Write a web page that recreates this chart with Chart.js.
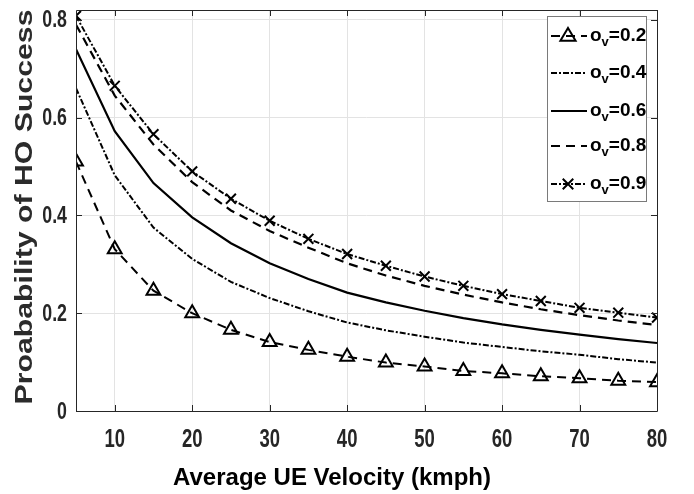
<!DOCTYPE html>
<html>
<head>
<meta charset="utf-8">
<script src="https://cdn.jsdelivr.net/npm/chart.js@4.4.1/dist/chart.umd.min.js"></script>
<style>
html,body{margin:0;padding:0;background:#fff;}
#wrap{width:694px;height:494px;position:relative;}
</style>
</head>
<body>
<div id="wrap"><canvas id="c" width="694" height="494"></canvas></div>
<script>
// ---- data ----
const velocity = [5,10,15,20,25,30,35,40,45,50,55,60,65,70,75,80];
const sigma02 = [0.51,0.331,0.246,0.200,0.166,0.141,0.125,0.111,0.099,0.091,0.082,0.077,0.071,0.067,0.062,0.059];
const sigma04 = [0.66,0.482,0.375,0.311,0.264,0.231,0.204,0.181,0.165,0.152,0.140,0.131,0.122,0.115,0.106,0.099];
const sigma06 = [0.74,0.572,0.466,0.396,0.343,0.302,0.270,0.242,0.222,0.205,0.190,0.177,0.166,0.156,0.147,0.139];
const sigma08 = [0.79,0.645,0.545,0.468,0.410,0.368,0.334,0.302,0.277,0.256,0.238,0.222,0.208,0.196,0.185,0.176];
const sigma09 = [0.808,0.665,0.566,0.490,0.434,0.389,0.352,0.321,0.297,0.275,0.256,0.239,0.225,0.211,0.201,0.191];
const seriesLabels = ["0.2","0.4","0.6","0.8","0.9"];
const xTickValues = [10,20,30,40,50,60,70,80];
const yTickValues = [0,0.2,0.4,0.6,0.8];
const xTickLabels = ["10","20","30","40","50","60","70","80"];
const yTickLabels = ["0","0.2","0.4","0.6","0.8"];
const xTitle = "Average UE Velocity (kmph)";
const yTitle = "Proabability of HO Success";

const SANS = "'Liberation Sans',Arial,sans-serif";
const toPts = arr => arr.map((v,i)=>({x:velocity[i],y:v}));

const styles = [
  {data:sigma02, dash:[9,6], width:2, point:'triangle', radius:8},
  {data:sigma04, dash:[6,2,2,2], width:2, point:false, radius:0},
  {data:sigma06, dash:[], width:2.2, point:false, radius:0},
  {data:sigma08, dash:[9,6], width:2.2, point:false, radius:0},
  {data:sigma09, dash:[6,2,2,2], width:2, point:'crossRot', radius:7}
];

const datasets = styles.map((s,i)=>({
  label: 'σv=' + seriesLabels[i],
  data: toPts(s.data),
  borderColor:'#000',
  backgroundColor:'rgba(0,0,0,0)',
  borderWidth:s.width,
  borderDash:s.dash,
  pointStyle:s.point || 'circle',
  pointRadius:s.radius,
  pointBorderWidth:2,
  pointBorderColor:'#000',
  pointBackgroundColor:'rgba(0,0,0,0)',
  tension:0,
  fill:false
}));

function drawMarker(ctx, style, x, y, r){
  ctx.save();
  ctx.setLineDash([]);
  ctx.lineWidth=2;
  ctx.strokeStyle='#000';
  ctx.beginPath();
  if(style==='triangle'){
    ctx.moveTo(x, y-r);
    ctx.lineTo(x+r*0.95, y+r*0.6);
    ctx.lineTo(x-r*0.95, y+r*0.6);
    ctx.closePath();
  } else if(style==='crossRot'){
    const d=r*0.75;
    ctx.moveTo(x-d,y-d);ctx.lineTo(x+d,y+d);
    ctx.moveTo(x+d,y-d);ctx.lineTo(x-d,y+d);
  }
  ctx.stroke();
  ctx.restore();
}

// axis box, inner ticks, tick labels and axis titles
const axisDecor = {
  id:'axisDecor',
  afterDraw(chart){
    const {ctx, chartArea:a, scales} = chart;
    ctx.save();
    ctx.strokeStyle='#262626';
    ctx.lineWidth=1;
    const L=6;
    scales.x.ticks.forEach(t=>{
      const px=Math.round(scales.x.getPixelForValue(t.value))+0.5;
      ctx.beginPath();
      ctx.moveTo(px,a.bottom);ctx.lineTo(px,a.bottom-L);
      ctx.moveTo(px,a.top);ctx.lineTo(px,a.top+L);
      ctx.stroke();
    });
    scales.y.ticks.forEach(t=>{
      const py=Math.round(scales.y.getPixelForValue(t.value))+0.5;
      ctx.beginPath();
      ctx.moveTo(a.left,py);ctx.lineTo(a.left+L,py);
      ctx.moveTo(a.right,py);ctx.lineTo(a.right-L,py);
      ctx.stroke();
    });
    ctx.beginPath();
    ctx.rect(Math.round(a.left)+0.5, Math.round(a.top)+0.5, Math.round(a.right-a.left), Math.round(a.bottom-a.top));
    ctx.stroke();

    ctx.fillStyle='#262626';
    ctx.textBaseline='middle';
    ctx.font="bold 25px "+SANS;
    ctx.textAlign='center';
    xTickValues.forEach((v,i)=>{
      const px=scales.x.getPixelForValue(v);
      ctx.save();
      ctx.translate(px,440);
      ctx.scale(0.74,1);
      ctx.fillText(xTickLabels[i],0,0);
      ctx.restore();
    });
    ctx.font="bold 24px "+SANS;
    ctx.textAlign='right';
    yTickValues.forEach((v,i)=>{
      const py=scales.y.getPixelForValue(v);
      ctx.save();
      ctx.translate(67,py+1);
      ctx.scale(0.74,1);
      ctx.fillText(yTickLabels[i],0,0);
      ctx.restore();
    });

    // x title
    ctx.fillStyle='#000';
    ctx.textBaseline='alphabetic';
    ctx.textAlign='center';
    ctx.font="bold 24px "+SANS;
    ctx.fillText(xTitle,332,485);
    // y title
    ctx.fillStyle='#2b2b2b';
    ctx.save();
    ctx.translate(32,207);
    ctx.rotate(-Math.PI/2);
    ctx.scale(1.26,1);
    ctx.fillText(yTitle,0,0);
    ctx.restore();
    ctx.restore();
  }
};

const customLegend = {
  id:'customLegend',
  afterDraw(chart){
    const ctx=chart.ctx;
    const bx=547, by=16, bw=99, bh=185;
    ctx.save();
    ctx.fillStyle='#fff';
    ctx.fillRect(bx,by,bw,bh);
    ctx.strokeStyle='#7a7a7a';
    ctx.lineWidth=1;
    ctx.strokeRect(bx+0.5,by+0.5,bw,bh);
    const rows=[36,73,111,146,184];
    styles.forEach((s,i)=>{
      const y=rows[i];
      ctx.save();
      ctx.strokeStyle='#000';
      ctx.lineWidth=s.width;
      ctx.setLineDash(s.dash);
      ctx.beginPath();
      ctx.moveTo(551,y);ctx.lineTo(587,y);
      ctx.stroke();
      ctx.restore();
      if(s.point) drawMarker(ctx,s.point,568,y,s.point==='triangle'?8:7);
      ctx.fillStyle='#000';
      ctx.textBaseline='middle';
      ctx.textAlign='left';
      ctx.font="bold 19px "+SANS;
      let x=590;
      ctx.fillText('o',x,y);
      x+=ctx.measureText('o').width;
      ctx.font="bold 13px "+SANS;
      ctx.fillText('v',x,y+6);
      x+=ctx.measureText('v').width;
      ctx.font="bold 19px "+SANS;
      ctx.fillText('='+seriesLabels[i],x,y);
    });
    ctx.restore();
  }
};

new Chart(document.getElementById('c'),{
  type:'line',
  data:{datasets},
  options:{
    responsive:false,
    animation:false,
    devicePixelRatio:1,
    layout:{padding:{top:6,right:37,left:0,bottom:0}},
    plugins:{legend:{display:false},tooltip:{enabled:false}},
    scales:{
      x:{
        type:'linear', min:5, max:80,
        afterBuildTicks(scale){ scale.ticks = xTickValues.map(v=>({value:v})); },
        afterFit(scale){ scale.height = 83; },
        grid:{color:'#e3e3e3', drawTicks:false, lineWidth:1},
        border:{display:false},
        ticks:{display:false},
        title:{display:false, text:xTitle}
      },
      y:{
        type:'linear', min:0, max:0.82,
        afterBuildTicks(scale){ scale.ticks = yTickValues.map(v=>({value:v})); },
        afterFit(scale){ scale.width = 76; },
        grid:{color:'#e3e3e3', drawTicks:false, lineWidth:1},
        border:{display:false},
        ticks:{display:false},
        title:{display:false, text:yTitle}
      }
    }
  },
  plugins:[axisDecor, customLegend]
});
</script>
</body>
</html>
